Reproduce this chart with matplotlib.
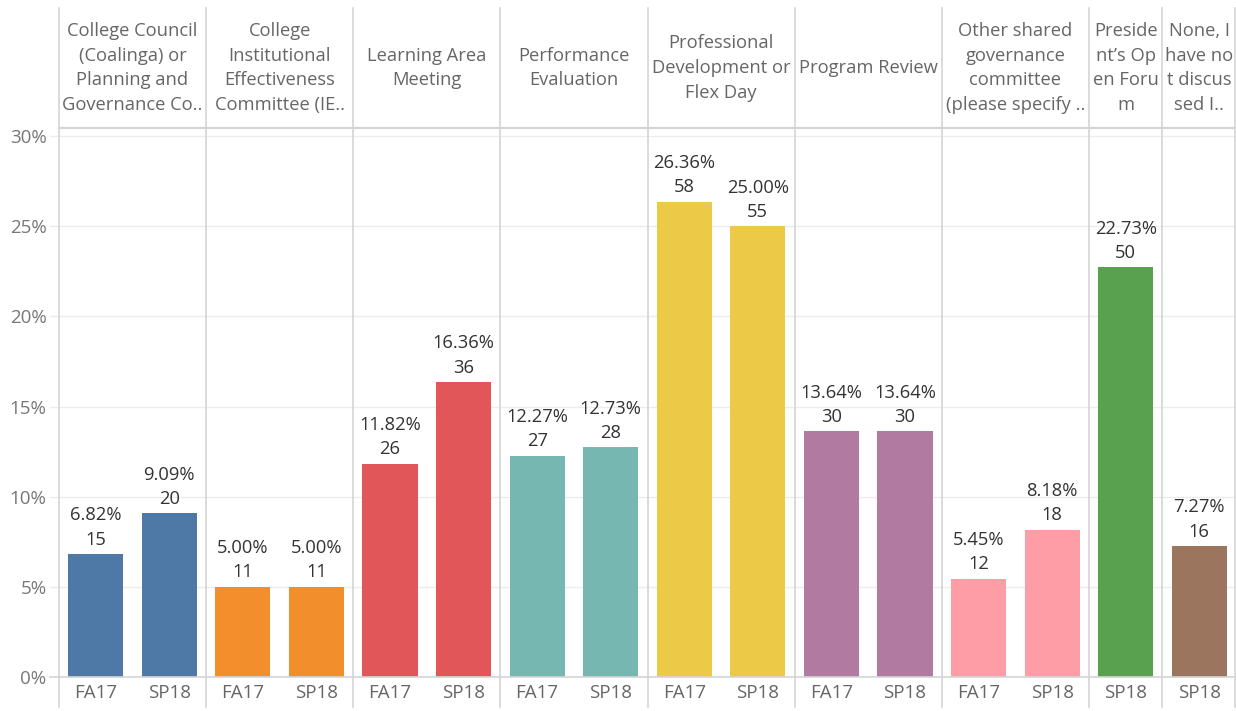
import matplotlib.pyplot as plt
from matplotlib.lines import Line2D

plt.rcParams['font.family'] = ['Open Sans', 'DejaVu Sans']

headers = [
    "College Council\n(Coalinga) or\nPlanning and\nGovernance Co..",
    "College\nInstitutional\nEffectiveness\nCommittee (IE..",
    "Learning Area\nMeeting",
    "Performance\nEvaluation",
    "Professional\nDevelopment or\nFlex Day",
    "Program Review",
    "Other shared\ngovernance\ncommittee\n(please specify ..",
    "Preside\nnt\u2019s Op\nen Foru\nm",
    "None, I\nhave no\nt discus\nsed I..",
]
terms = [["FA17", "SP18"]] * 7 + [["SP18"], ["SP18"]]
pcts = [[6.82, 9.09], [5.00, 5.00], [11.82, 16.36], [12.27, 12.73],
        [26.36, 25.00], [13.64, 13.64], [5.45, 8.18], [22.73], [7.27]]
counts = [[15, 20], [11, 11], [26, 36], [27, 28],
          [58, 55], [30, 30], [12, 18], [50], [16]]
colors = ["#4e79a7", "#f28e2b", "#e15759", "#76b7b2", "#edc948",
          "#b07aa1", "#ff9da7", "#59a14f", "#9c755f"]

W, H = 1236, 711
left, top_hdr, hdr_bot, zero_y, bottom = 59, 8, 128, 677, 707
fig = plt.figure(figsize=(W / 100, H / 100), dpi=100)
ax = fig.add_axes([left / W, (H - zero_y) / H, (W - left) / W, (zero_y - hdr_bot) / H])
hax = fig.add_axes([left / W, (H - hdr_bot) / H, (W - left) / W, (hdr_bot - top_hdr) / H])
hax.axis("off")

nslots = sum(len(t) for t in terms)
ax.set_xlim(0, nslots)
ax.set_ylim(0, 30.45)
hax.set_xlim(0, nslots)
hax.set_ylim(0, 1)

xt, xl, bounds = [], [], [0]
pos = 0
for i, (head, tm, pc, ct) in enumerate(zip(headers, terms, pcts, counts)):
    for t, p, c in zip(tm, pc, ct):
        x = pos + 0.5
        ax.bar(x, p, width=0.75, color=colors[i], zorder=2)
        ax.text(x, p + 0.3, f"{p:.2f}%\n{c}", ha="center", va="bottom",
                fontsize=13.2, color="#333333", linespacing=1.44)
        xt.append(x)
        xl.append(t)
        pos += 1
    hax.text(pos - len(tm) / 2, 0.5, head, ha="center", va="center",
             fontsize=13.2, color="#666666", linespacing=1.49)
    bounds.append(pos)

ax.set_xticks(xt)
ax.set_xticklabels(xl, fontsize=13.5, color="#666666")
ax.set_yticks(range(0, 31, 5))
ax.set_yticklabels([f"{v}%" for v in range(0, 31, 5)], fontsize=13.5, color="#777777")
ax.tick_params(length=0, pad=5)
ax.tick_params(axis="y", pad=9)
for s in ax.spines.values():
    s.set_visible(False)
for v in range(5, 31, 5):
    ax.axhline(v, xmin=-9 / (W - left), xmax=1, color="#ececec", lw=1, zorder=0, clip_on=False)

# panel separators
lc = "#d4d4d4"
for b in bounds:
    xp = (left + b * (W - left) / nslots) / W
    if b == nslots:
        xp -= 1 / W
    fig.add_artist(Line2D([xp, xp], [1 - bottom / H, 1 - top_hdr / H], color=lc, lw=1.2))
fig.add_artist(Line2D([left / W, 1], [1 - hdr_bot / H] * 2, color=lc, lw=1.6))
fig.add_artist(Line2D([50 / W, 1], [1 - zero_y / H] * 2, color=lc, lw=1.2))

fig.savefig("out.png", dpi=100)
